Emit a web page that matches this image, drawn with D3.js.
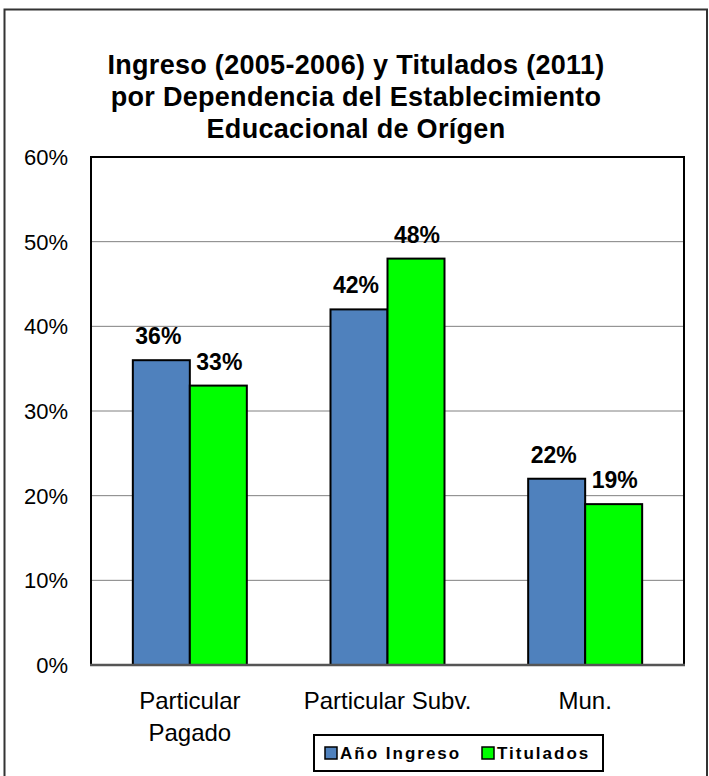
<!DOCTYPE html>
<html lang="es">
<head>
    <meta charset="UTF-8">
    <title>Ingreso y Titulados por Dependencia</title>
    <script src="https://d3js.org/d3.v7.min.js"></script>
    <style>
        body { margin: 0; background: #fff; }
        svg { font-family: "Liberation Sans", Arial, sans-serif; }
        .grid line { stroke: #808080; stroke-width: 1; }
        .y-label { font-size: 22px; fill: #000; }
        .x-label { font-size: 24px; fill: #000; }
        .val { font-size: 23px; font-weight: bold; fill: #000; }
    </style>
</head>
<body>
<div id="chart"></div>
<script>
    // datos del gráfico
    const categorias = [["Particular", "Pagado"], ["Particular Subv."], ["Mun."]];
    const series = ["Año Ingreso", "Titulados"];
    const anoIngreso = [36, 42, 22];
    const titulados = [33, 48, 19];
    const ticks = [0, 10, 20, 30, 40, 50, 60];
    const colores = ["#4f81bd", "#00ff00"];

    const width = 709, height = 776;
    const plot = { left: 91, top: 157, right: 684, bottom: 665 };

    const svg = d3.select('#chart').append('svg')
        .attr('width', width)
        .attr('height', height);

    // marco exterior (sin borde inferior visible)
    svg.append('path')
        .attr('d', 'M4.5,790V9.5H707V790')
        .attr('fill', 'none')
        .attr('stroke', '#333')
        .attr('stroke-width', 2);

    // título
    const titulo = ["Ingreso (2005-2006) y Titulados (2011)",
                    "por Dependencia del Establecimiento",
                    "Educacional de Orígen"];
    svg.append('g').selectAll('text')
        .data(titulo)
        .enter().append('text')
        .attr('x', 356)
        .attr('y', (d, i) => 74 + i * 32)
        .attr('text-anchor', 'middle')
        .style('font-size', '27px')
        .style('font-weight', 'bold')
        .style('letter-spacing', '0.3px')
        .text(d => d);

    const y = d3.scaleLinear().domain([0, 60]).range([plot.bottom, plot.top]);
    const x = d3.scaleBand().domain(d3.range(categorias.length))
        .range([plot.left, plot.right]);
    const barW = 57;

    // líneas de cuadrícula
    svg.append('g').attr('class', 'grid')
        .selectAll('line')
        .data(ticks.filter(t => t > 0 && t < 60))
        .enter().append('line')
        .attr('x1', plot.left).attr('x2', plot.right)
        .attr('y1', d => y(d)).attr('y2', d => y(d));

    // etiquetas del eje y
    svg.append('g').selectAll('text')
        .data(ticks)
        .enter().append('text')
        .attr('class', 'y-label')
        .attr('x', 68)
        .attr('y', d => y(d) + 8)
        .attr('text-anchor', 'end')
        .text(d => d + '%');

    // barras
    const datos = [];
    categorias.forEach((c, i) => {
        datos.push({ i: i, s: 0, v: anoIngreso[i] });
        datos.push({ i: i, s: 1, v: titulados[i] });
    });
    const cx = i => x(i) + x.bandwidth() / 2;

    svg.append('g').selectAll('rect')
        .data(datos)
        .enter().append('rect')
        .attr('x', d => cx(d.i) + (d.s === 0 ? -barW : 0))
        .attr('y', d => y(d.v))
        .attr('width', barW)
        .attr('height', d => y(0) - y(d.v))
        .attr('fill', d => colores[d.s])
        .attr('stroke', '#000')
        .attr('stroke-width', 2);

    // etiquetas de valores
    svg.append('g').selectAll('text')
        .data(datos)
        .enter().append('text')
        .attr('class', 'val')
        .attr('x', d => cx(d.i) + (d.s === 0 ? -barW / 2 - 3 : barW / 2 + 1))
        .attr('y', d => y(d.v) - 16)
        .attr('text-anchor', 'middle')
        .text(d => d.v + '%');

    // borde del área de trazado
    svg.append('path')
        .attr('d', `M${plot.left},${plot.bottom}V${plot.top}H${plot.right}V${plot.bottom}`)
        .attr('fill', 'none')
        .attr('stroke', '#000')
        .attr('stroke-width', 2);
    svg.append('line')
        .attr('x1', plot.left - 1).attr('x2', plot.right + 1)
        .attr('y1', plot.bottom).attr('y2', plot.bottom)
        .attr('stroke', '#555')
        .attr('stroke-width', 2.5);

    // etiquetas de categorías
    const xl = svg.append('g').selectAll('text')
        .data(categorias)
        .enter().append('text')
        .attr('class', 'x-label')
        .attr('x', (d, i) => cx(i))
        .attr('y', 709)
        .attr('text-anchor', 'middle');
    xl.selectAll('tspan')
        .data(d => d)
        .enter().append('tspan')
        .attr('x', function() { return this.parentNode.getAttribute('x'); })
        .attr('dy', (d, j) => j === 0 ? 0 : 32)
        .text(d => d);

    // leyenda
    const leg = svg.append('g');
    leg.append('rect')
        .attr('x', 314).attr('y', 735)
        .attr('width', 289).attr('height', 36)
        .attr('fill', '#fff')
        .attr('stroke', '#000')
        .attr('stroke-width', 2);
    const legX = [325, 482];
    series.forEach((s, i) => {
        leg.append('rect')
            .attr('x', legX[i]).attr('y', 747)
            .attr('width', 12).attr('height', 12)
            .attr('fill', colores[i])
            .attr('stroke', '#000')
            .attr('stroke-width', 1.5);
        leg.append('text')
            .attr('x', legX[i] + 15).attr('y', 759)
            .style('font-size', '17px')
            .style('font-weight', 'bold')
            .style('letter-spacing', '2px')
            .text(s);
    });
</script>
</body>
</html>
